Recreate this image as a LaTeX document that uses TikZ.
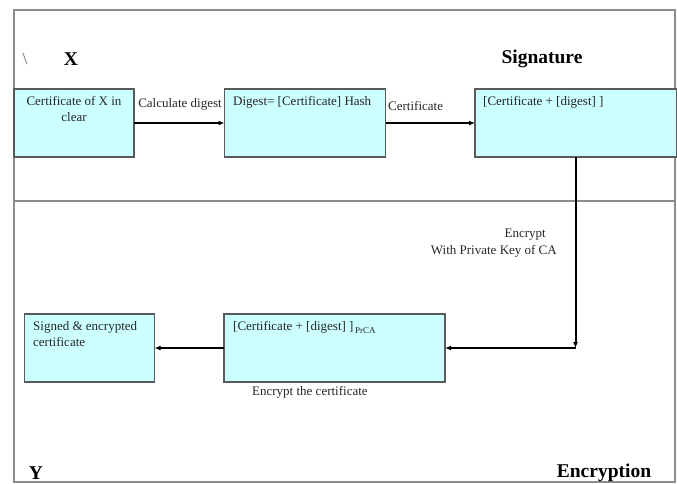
\documentclass[tikz,border=0pt]{standalone}
\usepackage{fontspec}
\setmainfont{Liberation Serif}
\usetikzlibrary{arrows.meta}
\definecolor{boxfill}{HTML}{CCFFFF}
\definecolor{boxline}{HTML}{5A5A5A}
\definecolor{frameline}{HTML}{8C8C8C}
\tikzset{
  x=1pt, y=-1pt,
  box/.style={draw=boxline, line width=1.1pt, fill=boxfill, anchor=north west,
    inner sep=0pt, outer sep=0pt},
  txt/.style={font=\fontsize{13}{16.5}\selectfont, text=black!85, inner sep=0pt},
  title/.style={font=\fontsize{19.5}{22}\selectfont\bfseries, inner sep=0pt},
  flow/.style={line width=2pt, -{Latex[length=6pt,width=5pt]}},
}
\begin{document}
\begin{tikzpicture}
\useasboundingbox (0,0) rectangle (677,483);
% outer frame and lane divider
\draw[frameline, line width=1.3pt] (14,10) rectangle (675,482);
\draw[frameline, line width=1.3pt] (14,201) -- (675,201);

% lane titles
\node[font=\fontsize{17}{18}\selectfont, text=black!60, inner sep=0pt] (bs) at (25,59) {\textbackslash};
\node[title] (tx) at (71,59) {X};
\node[title] (tsig) at (542,59) {Signature};
\node[title] (ty) at (36,473) {Y};
\node[title] (tenc) at (604,473) {Encryption};

% boxes
\node[box, minimum width=120pt, minimum height=68pt] (b1) at (14,89) {};
\node[box, minimum width=161pt, minimum height=68pt] (b2) at (224.5,89) {};
\node[box, minimum width=202pt, minimum height=68pt] (b3) at (475,89) {};
\node[box, minimum width=221pt, minimum height=68pt] (b4) at (224,314) {};
\node[box, minimum width=130pt, minimum height=68pt] (b5) at (24.5,314) {};

% box texts
\node[txt, align=center, anchor=north] (t1) at (74,96) {Certificate of X in\\clear};
\node[txt, anchor=north west] (t2) at (233,96) {Digest= [Certificate] Hash};
\node[txt, anchor=north west] (t3) at (483,96) {[Certificate + [digest] ]};
\node[txt, anchor=north west] (t4) at (233,321)
  {[Certificate + [digest] ]\raisebox{-3pt}{\fontsize{9}{9}\selectfont\,PrCA}};
\node[txt, align=left, anchor=north west] (t5) at (33,321) {Signed \& encrypted\\certificate};

% connectors
\coordinate (corner) at (575.5,348);
\draw[flow] (b1.east) -- (b2.west);
\draw[flow] (b2.east) -- (b3.west);
\draw[flow] (b3.south -| corner) -- (corner);
\draw[flow] (corner) -- (b4.east);
\draw[flow] (b4.west) -- (b5.east);

% connector labels
\node[txt, anchor=south] (l1) at (180,111) {Calculate digest};
\node[txt, anchor=south west] (l2) at (388,111) {Certificate};
\node[txt, align=right, anchor=north east] (l3) at (557,229) {Encrypt\hspace*{11pt}\\With Private Key of CA};
\node[txt, anchor=north west] (l4) at (252,386) {Encrypt the certificate};
\end{tikzpicture}
\end{document}
